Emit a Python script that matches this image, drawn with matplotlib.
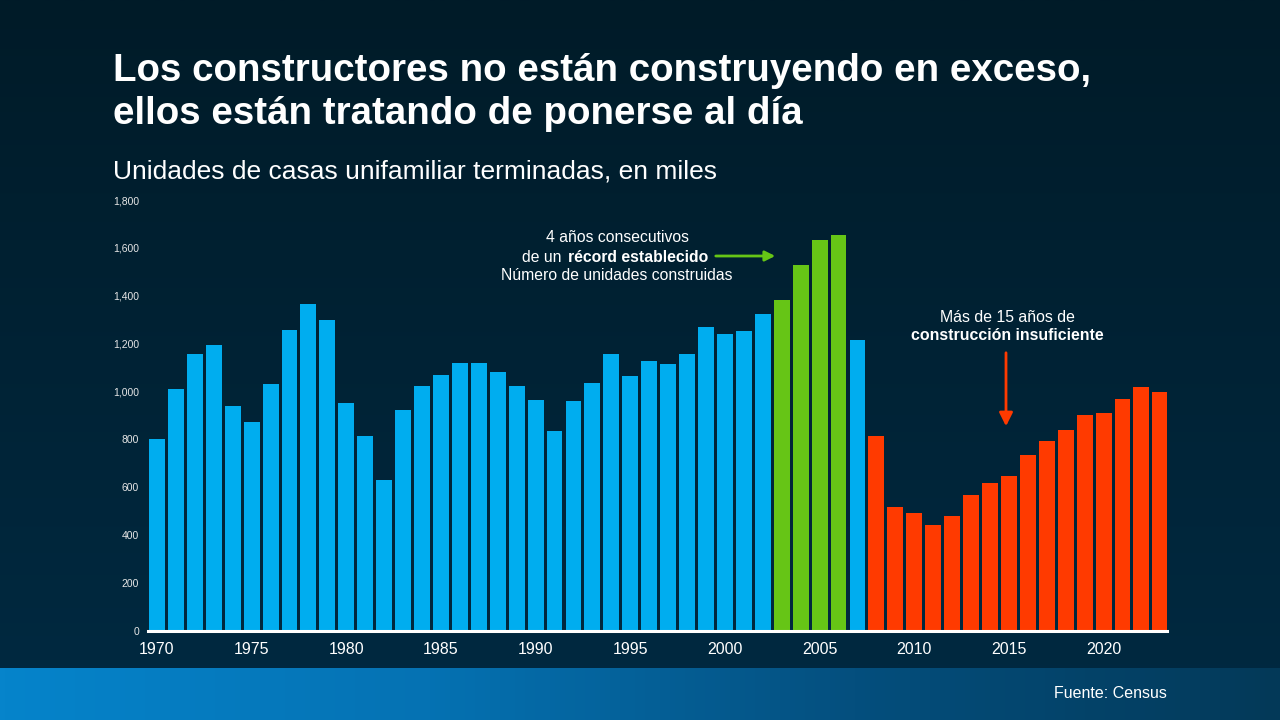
import numpy as np
import matplotlib
matplotlib.use("Agg")
import matplotlib.pyplot as plt
from matplotlib.colors import LinearSegmentedColormap
from matplotlib.patches import FancyArrowPatch

plt.rcParams['font.family'] = ['Liberation Sans', 'DejaVu Sans']

years = list(range(1970, 2024))
completions = [800, 1011, 1157, 1194, 940, 873, 1031, 1257, 1366, 1299,
               952, 814, 631, 923, 1023, 1069, 1119, 1119, 1082, 1023,
               965, 835, 960, 1036, 1157, 1065, 1128, 1115, 1157, 1270,
               1240, 1253, 1324, 1382, 1528, 1633, 1654, 1215, 814, 518,
               493, 443, 480, 568, 618, 647, 735, 793, 839, 902,
               910, 969, 1019, 998]
record_years = [2003, 2004, 2005, 2006]
under_start = 2008
xtick_years = list(range(1970, 2021, 5))
yticks = list(range(0, 1801, 200))

BLUE = '#00ADEF'
GREEN = '#66C516'
RED = '#FF3A00'

colors = []
for y in years:
    if y in record_years:
        colors.append(GREEN)
    elif y >= under_start:
        colors.append(RED)
    else:
        colors.append(BLUE)

W, H = 1280, 720
fig = plt.figure(figsize=(12.8, 7.2), dpi=100)

# background gradient
bg = fig.add_axes([0, 0, 1, 1], zorder=-10)
grad = np.linspace(0, 1, 256).reshape(-1, 1)
cmap_bg = LinearSegmentedColormap.from_list('bg', ['#001b28', '#002a42'])
bg.imshow(grad, aspect='auto', cmap=cmap_bg, extent=[0, 1, 0, 1], origin='upper')
bg.axis('off')

# bottom band
band = fig.add_axes([0, 0, 1, 52 / H], zorder=-9)
gx = np.linspace(0, 1, 256).reshape(1, -1)
cmap_band = LinearSegmentedColormap.from_list('band', ['#0684cb', '#0572b3', '#044f7e', '#033958'])
band.imshow(gx, aspect='auto', cmap=cmap_band, extent=[0, 1, 0, 1])
band.axis('off')

def px(x, y):
    return x / W, 1 - y / H

ax = fig.add_axes([147.5 / W, (H - 631) / H, (1167 - 147.5) / W, (631 - 200) / H])
ax.set_facecolor('none')
ax.bar(years, completions, width=0.84, color=colors, zorder=3)
ax.set_xlim(1969.5, 2023.35)
ax.set_ylim(0, 1800)
for s in ['top', 'right', 'left']:
    ax.spines[s].set_visible(False)
ax.spines['bottom'].set_color('white')
ax.spines['bottom'].set_linewidth(2.2)
ax.spines['bottom'].set_zorder(5)
ax.set_yticks(yticks)
ax.set_yticklabels([f'{v:,}' for v in yticks], fontsize=7.5, color='#e6e6e6')
ax.set_xticks(xtick_years)
ax.set_xticklabels([str(v) for v in xtick_years], fontsize=11.5, color='white')
ax.tick_params(axis='both', length=0)
ax.tick_params(axis='y', pad=6)
ax.tick_params(axis='x', pad=8)

# Titles
fig.text(*px(113, 71), 'Los constructores no están construyendo en exceso,',
         fontsize=27.7, fontweight='bold', color='white', va='center', ha='left')
fig.text(*px(113, 114), 'ellos están tratando de ponerse al día',
         fontsize=27.7, fontweight='bold', color='white', va='center', ha='left')
fig.text(*px(113, 172), 'Unidades de casas unifamiliar terminadas, en miles',
         fontsize=19, color='white', va='center', ha='left')

# annotation 1
fs = 11.3
fig.text(*px(617, 238), '4 años consecutivos', fontsize=fs, color='white', ha='center', va='center')
fig.text(*px(562, 257), 'de un', fontsize=fs, color='white', ha='right', va='center')
fig.text(*px(568, 257), 'récord establecido', fontsize=fs, color='white', fontweight='bold', ha='left', va='center')
fig.text(*px(617, 276), 'Número de unidades construidas', fontsize=fs, color='white', ha='center', va='center')
fig.add_artist(FancyArrowPatch(px(713, 256), px(778, 256), transform=fig.transFigure,
               arrowstyle='-|>,head_length=6,head_width=3', color=GREEN, lw=2))

# annotation 2
fig.text(*px(1007, 317), 'Más de 15 años de', fontsize=11.4, color='white', ha='center', va='center')
fig.text(*px(1007, 336), 'construcción insuficiente', fontsize=11.4, color='white', fontweight='bold', ha='center', va='center')
fig.add_artist(FancyArrowPatch(px(1006, 350), px(1006, 429), transform=fig.transFigure,
               arrowstyle='-|>,head_length=8,head_width=4', color=RED, lw=2))

fig.text(*px(1167, 694), 'Fuente: Census', fontsize=11.5, color='white', ha='right', va='center')

fig.savefig('out.png', dpi=100)
